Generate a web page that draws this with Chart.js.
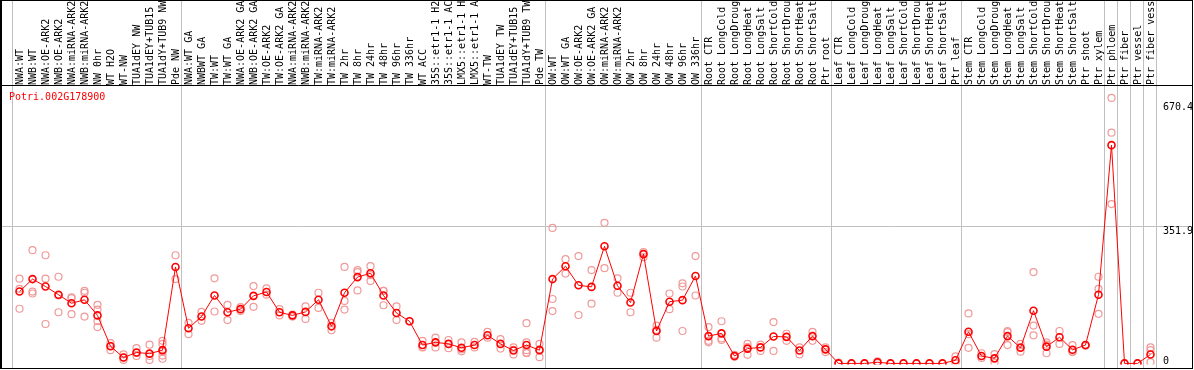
<!DOCTYPE html>
<html>
<head>
<meta charset="utf-8">
<script src="https://cdn.jsdelivr.net/npm/chart.js@4"></script>
<style>
  body { margin: 0; background: #fff; }
  canvas { display: block; }
</style>
</head>
<body>
<canvas id="chart" width="1194" height="370"></canvas>
<script>
const geneName = "Potri.002G178900";

const categories = [
  "NWA:WT", "NWB:WT", "NWA:OE-ARK2", "NWB:OE-ARK2", "NWA:miRNA-ARK2", "NWB:miRNA-ARK2",
  "NW 0hr", "WT H2O", "WT-NW", "TUA1dEY NW", "TUA1dEY+TUB15 NW", "TUA1dY+TUB9 NW", "Pde NW",
  "NWA:WT GA", "NWBWT GA", "TW:WT", "TW:WT GA", "NWA:OE-ARK2 GA", "NWB:OE-ARK2 GA",
  "TW:OE-ARK2", "TW:OE-ARK2 GA", "NWA:miRNA-ARK2 GA", "NWB:miRNA-ARK2 GA", "TW:miRNA-ARK2",
  "TW:miRNA-ARK2 GA", "TW 2hr", "TW 8hr", "TW 24hr", "TW 48hr", "TW 96hr", "TW 336hr",
  "WT ACC", "35S::etr1-1 H2O", "35S::etr1-1 ACC", "LMX5::etr1-1 H2O", "LMX5::etr1-1 ACC",
  "WT-TW", "TUA1dEY TW", "TUA1dEY+TUB15 TW", "TUA1dY+TUB9 TW", "Pde TW",
  "OW:WT", "OW:WT GA", "OW:OE-ARK2", "OW:OE-ARK2 GA", "OW:miRNA-ARK2", "OW:miRNA-ARK2 GA",
  "OW 2hr", "OW 8hr", "OW 24hr", "OW 48hr", "OW 96hr", "OW 336hr",
  "Root CTR", "Root LongCold", "Root LongDrought", "Root LongHeat", "Root LongSalt",
  "Root ShortCold", "Root ShortDrought", "Root ShortHeat", "Root ShortSalt", "Ptr root",
  "Leaf CTR", "Leaf LongCold", "Leaf LongDrought", "Leaf LongHeat", "Leaf LongSalt",
  "Leaf ShortCold", "Leaf ShortDrought", "Leaf ShortHeat", "Leaf ShortSalt", "Ptr leaf",
  "Stem CTR", "Stem LongCold", "Stem LongDrought", "Stem LongHeat", "Stem LongSalt",
  "Stem ShortCold", "Stem ShortDrought", "Stem ShortHeat", "Stem ShortSalt", "Ptr shoot",
  "Ptr xylem", "Ptr phloem", "Ptr fiber", "Ptr vessel", "Ptr fiber vessel"
];

// mean expression per sample
const means = [
  184, 216, 197, 176, 154, 163, 123, 44, 15, 28, 25, 34, 247,
  90, 120, 174, 131, 139, 173, 183, 131, 123, 132, 163, 95, 181, 221, 231, 174, 129, 108,
  47, 54, 50, 40, 47, 72, 50, 33, 47, 34,
  216, 249, 200, 196, 300, 199, 156, 280, 83, 158, 162, 224,
  70, 77, 19, 38, 41, 69, 68, 33, 70, 36,
  0, 0, 0, 3, 0, 0, 0, 0, 0, 8,
  81, 19, 13, 70, 40, 135, 43, 67, 35, 47, 176,
  559, 0, 0, 23
];

// individual replicates per sample
const replicates = [
  [217, 191, 140], [290, 184, 179], [277, 217, 101], [222, 131, 174], [169, 126, 167],
  [186, 181, 120], [150, 138, 108, 93], [52, 34, 45], [23, 9, 15], [39, 19, 27],
  [48, 19, 9], [58, 50, 30, 20, 12], [277, 216],
  [104, 75], [132, 109], [218, 133], [150, 111], [144, 134], [198, 145], [192, 176],
  [139, 123], [125, 120], [146, 114], [181, 142], [104, 85], [247, 160, 138],
  [239, 234, 187], [249, 226, 211], [186, 149, 186], [146, 111], [108],
  [58, 41, 42], [66, 41], [60, 39], [54, 31, 36], [55, 41], [81, 66], [62, 38],
  [41, 23, 35], [103, 54, 34, 26, 28], [50, 16, 36],
  [347, 165, 134], [267, 230], [275, 124], [239, 153], [360, 244], [218, 181],
  [181, 131], [285, 272], [97, 66, 86], [179, 139], [205, 197, 83], [275, 174],
  [93, 58, 54], [108, 64, 60], [22, 17], [50, 22, 42], [48, 32], [106, 32],
  [76, 58], [41, 23], [81, 58], [41, 29],
  [2, 0], [0], [0], [5, 1], [0], [0], [0], [0], [0], [18, 0],
  [128, 40, 75], [26, 14], [24, 2], [83, 47, 80], [50, 42, 30], [234, 97, 72],
  [54, 26, 48], [83, 50], [47, 29, 30], [47, 45], [222, 191, 127],
  [680, 591, 408], [0], [0], [41, 34, 3]
];

const yTicks = [0, 351.9, 670.4];
// last sample index of each group (a vertical separator follows it)
const groupEnds = [-1, 12, 40, 52, 62, 72, 83, 84, 85, 86, 87];

const FONT = "10px 'DejaVu Sans Mono', monospace";

const extras = {
  id: "extras",
  beforeDatasetsDraw(chart) {
    const ctx = chart.ctx;
    const xs = chart.scales.x;
    const ys = chart.scales.y;
    ctx.save();
    ctx.strokeStyle = "#c0c0c0";
    ctx.lineWidth = 1;
    groupEnds.forEach((e) => {
      const px = Math.round(xs.getPixelForValue(e + 0.5) - 1.5) + 0.5;
      ctx.beginPath();
      ctx.moveTo(px, 0);
      ctx.lineTo(px, 369);
      ctx.stroke();
    });
    yTicks.slice(1, -1).forEach((t) => {
      const py = Math.round(ys.getPixelForValue(t)) + 0.5;
      ctx.beginPath();
      ctx.moveTo(0, py);
      ctx.lineTo(1193, py);
      ctx.stroke();
    });
    ctx.restore();
  },
  afterDraw(chart) {
    const ctx = chart.ctx;
    const xs = chart.scales.x;
    const ys = chart.scales.y;
    ctx.save();
    ctx.font = FONT;
    ctx.fillStyle = "#000";
    // rotated sample names
    ctx.textAlign = "left";
    ctx.textBaseline = "middle";
    categories.forEach((name, i) => {
      ctx.save();
      ctx.translate(xs.getPixelForValue(i) + 0.5, 85);
      ctx.rotate(-Math.PI / 2);
      ctx.fillText(name, 0, 0);
      ctx.restore();
    });
    // y tick labels on the right
    ctx.textBaseline = "top";
    yTicks.forEach((t) => {
      const py = Math.min(ys.getPixelForValue(t) + 0.5, 356);
      ctx.fillText(String(t), 1163, py);
    });
    // gene name
    ctx.fillStyle = "#ff0000";
    ctx.textBaseline = "middle";
    ctx.fillText(geneName, 9, 97);
    // frame
    ctx.strokeStyle = "#000";
    ctx.lineWidth = 1;
    ctx.strokeRect(0.5, 0.5, 1192, 368);
    ctx.beginPath();
    ctx.moveTo(1.5, 0);
    ctx.lineTo(1.5, 369);
    ctx.moveTo(0, 85.5);
    ctx.lineTo(1193, 85.5);
    ctx.stroke();
    ctx.restore();
  },
};

const meanPoints = means.map((v, i) => ({ x: i, y: v }));
const repPoints = [];
replicates.forEach((vals, i) => {
  vals.forEach((v) => repPoints.push({ x: i, y: v }));
});

new Chart(document.getElementById("chart"), {
  type: "line",
  data: {
    datasets: [
      {
        data: meanPoints,
        borderColor: "#ff0000",
        borderWidth: 1,
        pointRadius: 3.5,
        pointBorderWidth: 1.6,
        pointBorderColor: "#ff0000",
        pointBackgroundColor: "rgba(0,0,0,0)",
        tension: 0,
        order: 0,
      },
      {
        data: repPoints,
        showLine: false,
        pointRadius: 3.5,
        pointBorderWidth: 1.2,
        pointBorderColor: "#f09a9a",
        pointBackgroundColor: "rgba(0,0,0,0)",
        order: 1,
      },
    ],
  },
  options: {
    responsive: false,
    devicePixelRatio: 1,
    animation: false,
    layout: { padding: { left: 13, right: 37, top: 85, bottom: 1 } },
    plugins: { legend: false, tooltip: { enabled: false } },
    scales: {
      x: { type: "linear", display: false, min: -0.5, max: 87.5 },
      y: { display: false, min: -2.5, max: 713 },
    },
  },
  plugins: [extras],
});
</script>
</body>
</html>
